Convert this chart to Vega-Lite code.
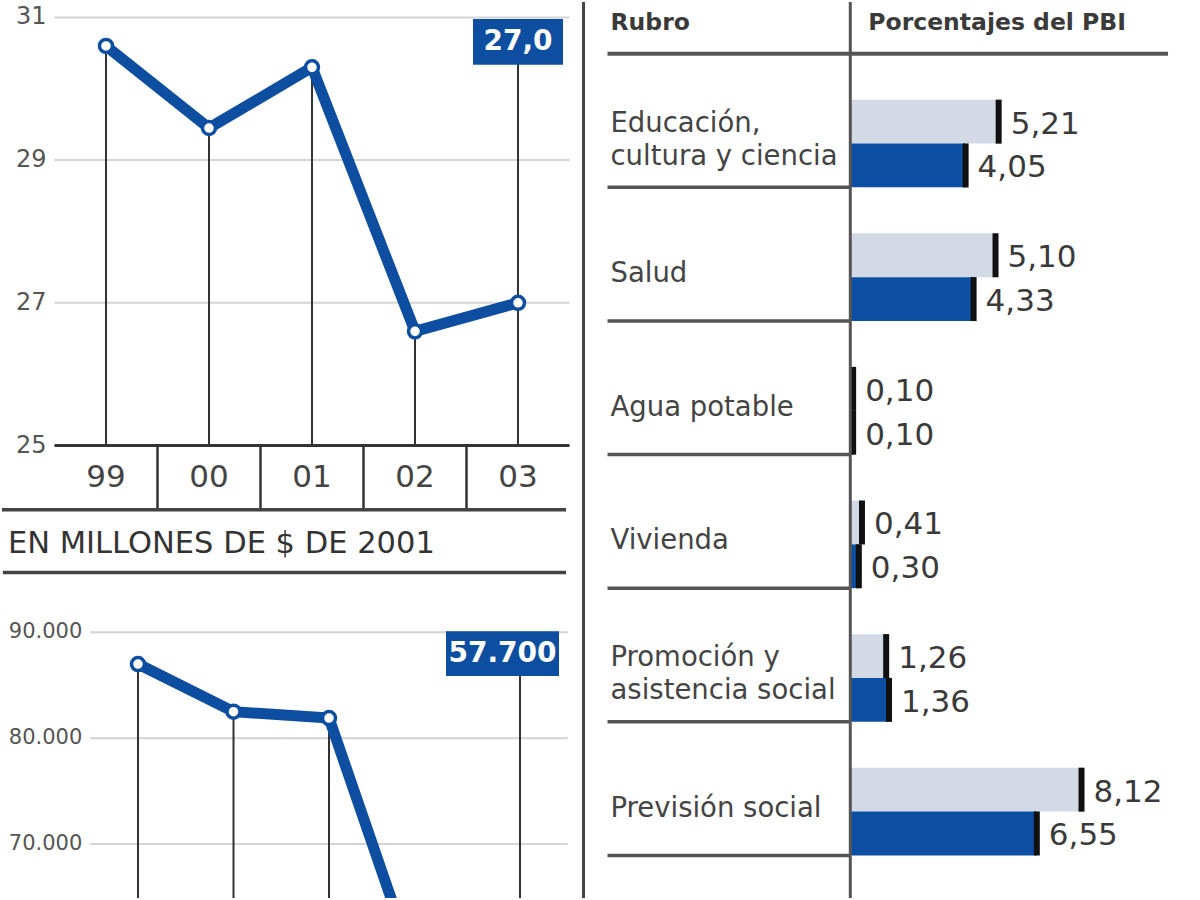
{
  "$schema": "https://vega.github.io/schema/vega-lite/v6.json",
  "width": 1200,
  "height": 900,
  "autosize": {"type": "fit", "contains": "padding"},
  "padding": 0,
  "background": "white",
  "config": {
    "font": "DejaVu Sans",
    "view": {"stroke": null},
    "axis": {"disable": true},
    "legend": {"disable": true},
    "locale": {"number": {"decimal": ",", "thousands": ".", "grouping": [3], "currency": ["$", ""]}}
  },
  "datasets": {
    "gasto_pbi": [
      {"anio": "99", "valor": 30.6},
      {"anio": "00", "valor": 29.45},
      {"anio": "01", "valor": 30.3},
      {"anio": "02", "valor": 26.6},
      {"anio": "03", "valor": 27.0}
    ],
    "gasto_millones": [
      {"anio": "99", "valor": 87000},
      {"anio": "00", "valor": 82500},
      {"anio": "01", "valor": 81900},
      {"anio": "02", "valor": 55700},
      {"anio": "03", "valor": 57700}
    ],
    "escala_pbi": [{"v": 31}, {"v": 29}, {"v": 27}, {"v": 25}],
    "escala_millones": [{"v": 90000}, {"v": 80000}, {"v": 70000}],
    "encabezados": [{"columna": "Rubro"}, {"columna": "Porcentajes del PBI"}],
    "rubros": [
      {"rubro": "Educación,\ncultura y ciencia", "serie": "A", "valor": 5.21},
      {"rubro": "Educación,\ncultura y ciencia", "serie": "B", "valor": 4.05},
      {"rubro": "Salud", "serie": "A", "valor": 5.10},
      {"rubro": "Salud", "serie": "B", "valor": 4.33},
      {"rubro": "Agua potable", "serie": "A", "valor": 0.10},
      {"rubro": "Agua potable", "serie": "B", "valor": 0.10},
      {"rubro": "Vivienda", "serie": "A", "valor": 0.41},
      {"rubro": "Vivienda", "serie": "B", "valor": 0.30},
      {"rubro": "Promoción y\nasistencia social", "serie": "A", "valor": 1.26},
      {"rubro": "Promoción y\nasistencia social", "serie": "B", "valor": 1.36},
      {"rubro": "Previsión social", "serie": "A", "valor": 8.12},
      {"rubro": "Previsión social", "serie": "B", "valor": 6.55}
    ]
  },
  "layer": [
    {
      "data": {"name": "gasto_pbi"},
      "encoding": {
        "x": {"field": "anio", "type": "ordinal", "axis": null,
              "scale": {"type": "band", "domain": ["99", "00", "01", "02", "03"], "range": [53.5, 568.5], "paddingInner": 0, "paddingOuter": 0}},
        "y": {"field": "valor", "type": "quantitative", "axis": null,
              "scale": {"domain": [18.659, 31.216], "zero": false, "nice": false}}
      },
      "layer": [
        {
          "data": {"name": "escala_pbi"},
          "transform": [{"filter": "datum.v > 25"}],
          "mark": {"type": "rule", "color": "#d4d4d4", "strokeWidth": 2},
          "encoding": {
            "x": {"datum": "99", "bandPosition": 0},
            "x2": {"datum": "03", "bandPosition": 1},
            "y": {"field": "v", "type": "quantitative"}
          }
        },
        {
          "data": {"name": "escala_pbi"},
          "transform": [{"filter": "datum.v == 25"}],
          "mark": {"type": "rule", "color": "#333333", "strokeWidth": 3},
          "encoding": {
            "x": {"datum": "99", "bandPosition": 0},
            "x2": {"datum": "03", "bandPosition": 1},
            "y": {"field": "v", "type": "quantitative"}
          }
        },
        {
          "data": {"name": "escala_pbi"},
          "mark": {"type": "text", "align": "right", "baseline": "middle", "dx": -8, "fontSize": 24, "color": "#555555"},
          "encoding": {
            "x": {"datum": "99", "bandPosition": 0},
            "y": {"field": "v", "type": "quantitative"},
            "text": {"field": "v", "type": "quantitative", "format": "d"}
          }
        },
        {
          "mark": {"type": "rule", "color": "#333333", "strokeWidth": 2},
          "encoding": {"y2": {"datum": 25}}
        },
        {
          "transform": [{"filter": "datum.anio == '03'"}],
          "mark": {"type": "rule", "color": "#333333", "strokeWidth": 2},
          "encoding": {"y": {"datum": 30.658}, "y2": {"field": "valor"}}
        },
        {
          "transform": [{"filter": "datum.anio != '99'"}],
          "mark": {"type": "rule", "color": "#333333", "strokeWidth": 2.5},
          "encoding": {
            "x": {"field": "anio", "type": "ordinal", "bandPosition": 0},
            "y": {"datum": 25},
            "y2": {"datum": 24.1}
          }
        },
        {
          "transform": [{"filter": "datum.anio == '99'"}],
          "mark": {"type": "rule", "color": "#444444", "strokeWidth": 3.5},
          "encoding": {
            "x": {"datum": "99", "bandPosition": -0.51},
            "x2": {"datum": "03", "bandPosition": 0.966},
            "y": {"datum": 24.1}
          }
        },
        {
          "mark": {"type": "text", "fontSize": 31, "color": "#444444", "baseline": "middle"},
          "encoding": {"y": {"datum": 24.547}, "text": {"field": "anio"}}
        },
        {
          "mark": {"type": "line", "color": "#0d4ea0", "strokeWidth": 11, "strokeJoin": "miter"}
        },
        {
          "mark": {"type": "point", "filled": true, "fill": "white", "stroke": "#0d4ea0", "strokeWidth": 3.5, "size": 170, "opacity": 1}
        },
        {
          "transform": [{"filter": "datum.anio == '03'"}],
          "mark": {"type": "rect", "color": "#0d4ea0"},
          "encoding": {
            "x": {"datum": "03", "bandPosition": 0.063},
            "x2": {"datum": "03", "bandPosition": 0.937},
            "y": {"datum": 30.979},
            "y2": {"datum": 30.337}
          }
        },
        {
          "transform": [{"filter": "datum.anio == '03'"}],
          "mark": {"type": "text", "color": "white", "fontWeight": "bold", "fontSize": 28, "baseline": "middle"},
          "encoding": {
            "y": {"datum": 30.658},
            "text": {"field": "valor", "type": "quantitative", "format": ".1f"}
          }
        }
      ]
    },
    {
      "data": {"name": "gasto_millones"},
      "encoding": {
        "x": {"field": "anio", "type": "ordinal", "axis": null,
              "scale": {"type": "band", "domain": ["99", "00", "01", "02", "03"], "range": [89.25, 566.75], "paddingInner": 0, "paddingOuter": 0}},
        "y": {"field": "valor", "type": "quantitative", "axis": null,
              "scale": {"domain": [64902, 149528], "zero": false, "nice": false}}
      },
      "layer": [
        {
          "data": {"name": "escala_millones"},
          "mark": {"type": "rule", "color": "#d4d4d4", "strokeWidth": 2},
          "encoding": {
            "x": {"datum": "99", "bandPosition": 0},
            "x2": {"datum": "03", "bandPosition": 1},
            "y": {"field": "v", "type": "quantitative"}
          }
        },
        {
          "data": {"name": "escala_millones"},
          "mark": {"type": "text", "align": "right", "baseline": "middle", "dx": -8, "fontSize": 21, "color": "#555555"},
          "encoding": {
            "x": {"datum": "99", "bandPosition": 0},
            "y": {"field": "v", "type": "quantitative"},
            "text": {"field": "v", "type": "quantitative", "format": ",d"}
          }
        },
        {
          "transform": [{"filter": "datum.anio == '99'"}],
          "mark": {"type": "text", "align": "left", "baseline": "middle", "fontSize": 30.5, "color": "#333333", "text": "EN MILLONES DE $ DE 2001"},
          "encoding": {
            "x": {"datum": "99", "bandPosition": -0.861},
            "y": {"datum": 98376}
          }
        },
        {
          "transform": [{"filter": "datum.anio == '99'"}],
          "mark": {"type": "rule", "color": "#444444", "strokeWidth": 3.5},
          "encoding": {
            "x": {"datum": "99", "bandPosition": -0.915},
            "x2": {"datum": "03", "bandPosition": 0.9817},
            "y": {"datum": 95649}
          }
        },
        {
          "mark": {"type": "rule", "color": "#333333", "strokeWidth": 2, "clip": true},
          "encoding": {"y2": {"datum": 50000}}
        },
        {
          "transform": [{"filter": "datum.anio == '03'"}],
          "mark": {"type": "rule", "color": "#333333", "strokeWidth": 2, "clip": true},
          "encoding": {"y": {"datum": 87986}, "y2": {"field": "valor"}}
        },
        {
          "mark": {"type": "line", "color": "#0d4ea0", "strokeWidth": 11, "strokeJoin": "miter", "clip": true}
        },
        {
          "mark": {"type": "point", "filled": true, "fill": "white", "stroke": "#0d4ea0", "strokeWidth": 3.5, "size": 170, "opacity": 1, "clip": true}
        },
        {
          "transform": [{"filter": "datum.anio == '03'"}],
          "mark": {"type": "rect", "color": "#0d4ea0"},
          "encoding": {
            "x": {"datum": "03", "bandPosition": -0.2749},
            "x2": {"datum": "03", "bandPosition": 0.9084},
            "y": {"datum": 90102},
            "y2": {"datum": 85870}
          }
        },
        {
          "transform": [{"filter": "datum.anio == '03'"}],
          "mark": {"type": "text", "color": "white", "fontWeight": "bold", "fontSize": 28, "baseline": "middle"},
          "encoding": {
            "x": {"datum": "03", "bandPosition": 0.3168},
            "y": {"datum": 87986},
            "text": {"field": "valor", "type": "quantitative", "format": ",d"}
          }
        }
      ]
    },
    {
      "data": {"name": "rubros"},
      "layer": [
        {
          "mark": {"type": "bar"},
          "encoding": {
            "x": {"field": "valor", "type": "quantitative", "axis": null,
                  "scale": {"domain": [-29.8246, 12.2807], "zero": false, "nice": false}},
            "y": {"field": "rubro", "type": "nominal", "axis": null,
                  "scale": {"type": "band", "domain": ["Educación,\ncultura y ciencia", "Salud", "Agua potable", "Vivienda", "Promoción y\nasistencia social", "Previsión social"], "paddingInner": 0, "paddingOuter": 0.3532, "align": 0.5485}},
            "yOffset": {"field": "serie", "type": "nominal",
                        "scale": {"domain": ["A", "B"], "paddingInner": 0, "paddingOuter": 0.525, "align": 1}},
            "color": {"field": "serie", "type": "nominal", "legend": null,
                      "scale": {"domain": ["A", "B"], "range": ["#d3dae6", "#0b4ea2"]}}
          }
        },
        {
          "mark": {"type": "tick", "color": "#111111", "thickness": 6, "size": 44, "opacity": 1},
          "encoding": {
            "x": {"field": "valor", "type": "quantitative"},
            "y": {"field": "rubro", "type": "nominal"},
            "yOffset": {"field": "serie", "type": "nominal"}
          }
        },
        {
          "mark": {"type": "text", "align": "left", "baseline": "middle", "dx": 12, "dy": 3, "fontSize": 31, "color": "#3a3a3a"},
          "encoding": {
            "x": {"field": "valor", "type": "quantitative"},
            "y": {"field": "rubro", "type": "nominal"},
            "yOffset": {"field": "serie", "type": "nominal"},
            "text": {"field": "valor", "type": "quantitative", "format": ".2f"}
          }
        },
        {
          "transform": [{"filter": "datum.serie == 'A' && indexof(datum.rubro, '\\n') < 0"}],
          "mark": {"type": "text", "align": "left", "baseline": "middle", "fontSize": 27.5, "color": "#444444"},
          "encoding": {
            "x": {"datum": -8.421},
            "y": {"field": "rubro", "type": "nominal", "bandPosition": 0.65},
            "text": {"field": "rubro"}
          }
        },
        {
          "transform": [{"filter": "datum.serie == 'A' && indexof(datum.rubro, '\\n') >= 0"}],
          "mark": {"type": "text", "align": "left", "baseline": "middle", "fontSize": 27.5, "lineHeight": 33, "lineBreak": "\n", "color": "#444444"},
          "encoding": {
            "x": {"datum": -8.421},
            "y": {"field": "rubro", "type": "nominal", "bandPosition": 0.525},
            "text": {"field": "rubro"}
          }
        },
        {
          "transform": [{"filter": "datum.serie == 'A'"}],
          "mark": {"type": "rule", "color": "#555555", "strokeWidth": 3.5},
          "encoding": {
            "x": {"datum": -8.526},
            "x2": {"datum": 0},
            "y": {"field": "rubro", "type": "nominal", "bandPosition": 1}
          }
        },
        {
          "transform": [{"filter": "datum.serie == 'A' && datum.rubro == 'Salud'"}],
          "mark": {"type": "rule", "color": "#555555", "strokeWidth": 4},
          "encoding": {
            "x": {"datum": -8.526},
            "x2": {"datum": 11.158},
            "y": {"datum": "Educación,\ncultura y ciencia", "type": "nominal", "bandPosition": 0}
          }
        },
        {
          "transform": [{"filter": "datum.serie == 'A' && datum.rubro == 'Salud'"}],
          "mark": {"type": "rule", "color": "#555555", "strokeWidth": 3},
          "encoding": {"x": {"datum": 0}}
        },
        {
          "transform": [{"filter": "datum.serie == 'A' && datum.rubro == 'Salud'"}],
          "mark": {"type": "rule", "color": "#444444", "strokeWidth": 3},
          "encoding": {"x": {"datum": -9.368}}
        },
        {
          "data": {"name": "encabezados"},
          "transform": [{"filter": "datum.columna == 'Rubro'"}],
          "mark": {"type": "text", "align": "left", "baseline": "middle", "fontSize": 23.5, "fontWeight": "bold", "color": "#3a3a3a"},
          "encoding": {
            "x": {"datum": -8.421},
            "y": {"datum": "Educación,\ncultura y ciencia", "type": "nominal", "bandPosition": -0.231},
            "text": {"field": "columna"}
          }
        },
        {
          "data": {"name": "encabezados"},
          "transform": [{"filter": "datum.columna != 'Rubro'"}],
          "mark": {"type": "text", "align": "left", "baseline": "middle", "fontSize": 23.5, "fontWeight": "bold", "color": "#3a3a3a"},
          "encoding": {
            "x": {"datum": 0.632},
            "y": {"datum": "Educación,\ncultura y ciencia", "type": "nominal", "bandPosition": -0.231},
            "text": {"field": "columna"}
          }
        }
      ]
    }
  ],
  "resolve": {"scale": {"x": "independent", "y": "independent", "yOffset": "independent", "color": "independent"}}
}
